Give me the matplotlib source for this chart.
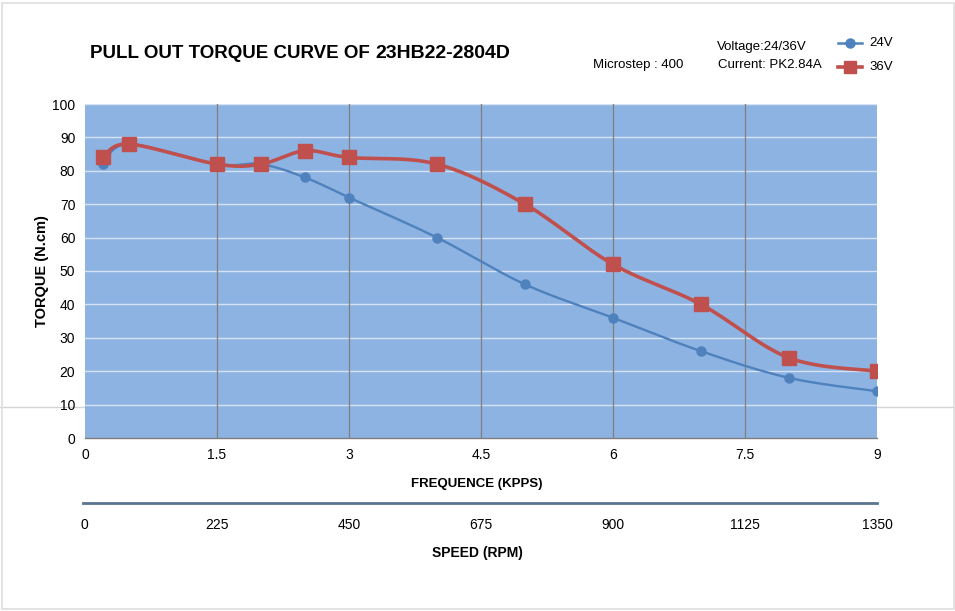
import numpy as np
import matplotlib
matplotlib.use("Agg")
import matplotlib.pyplot as plt
from matplotlib.lines import Line2D
from matplotlib.patches import Rectangle

# ---- data ----
freq_24 = [0.2, 0.5, 1.5, 2.0, 2.5, 3.0, 4.0, 5.0, 6.0, 7.0, 8.0, 9.0]
torque_24 = [82, 88, 82, 82, 78, 72, 60, 46, 36, 26, 18, 14]
freq_36 = [0.2, 0.5, 1.5, 2.0, 2.5, 3.0, 4.0, 5.0, 6.0, 7.0, 8.0, 9.0]
torque_36 = [84, 88, 82, 82, 86, 84, 82, 70, 52, 40, 24, 20]
x_ticks = [0, 1.5, 3, 4.5, 6, 7.5, 9]
x_tick_labels = ["0", "1.5", "3", "4.5", "6", "7.5", "9"]
y_ticks = [0, 10, 20, 30, 40, 50, 60, 70, 80, 90, 100]
rpm_ticks = [0, 225, 450, 675, 900, 1125, 1350]

W, H = 955, 611
fig = plt.figure(figsize=(W / 100, H / 100), dpi=100)
fig.patch.set_facecolor("white")
FONT = ["Liberation Sans", "DejaVu Sans"]


def fx(px):
    return px / W


def fy(py):
    return 1 - py / H


def smooth(xs, ys, n=30):
    # Catmull-Rom rendering of the line between data points (display smoothing only)
    p = np.column_stack([xs, ys]).astype(float)
    p = np.vstack([p[0], p, p[-1]])
    out = []
    for i in range(1, len(p) - 2):
        p0, p1, p2, p3 = p[i - 1], p[i], p[i + 1], p[i + 2]
        t = np.linspace(0, 1, n, endpoint=False)[:, None]
        seg = 0.5 * ((2 * p1) + (-p0 + p2) * t + (2 * p0 - 5 * p1 + 4 * p2 - p3) * t ** 2
                     + (-p0 + 3 * p1 - 3 * p2 + p3) * t ** 3)
        out.append(seg)
    out.append(p[-2][None, :])
    s = np.vstack(out)
    return s[:, 0], s[:, 1]


# background decorations
fig.add_artist(Line2D([0, 1], [fy(407), fy(407)], color="#d4d4d4", lw=1.0, zorder=0))
fig.add_artist(Rectangle((fx(1.5), fy(609)), fx(952), fy(2.5) - fy(609), fill=False,
                         edgecolor="#dedede", lw=1.2, zorder=0))

AX_W = 877 - 85
ax = fig.add_axes([fx(85), fy(438), fx(877) - fx(85), fy(104) - fy(438)])
ax.set_facecolor("#8DB3E2")
ax.set_xlim(0, 9)
ax.set_ylim(0, 100)
ax.set_xticks(x_ticks)
ax.set_xticklabels(x_tick_labels)
ax.set_yticks(y_ticks)
for y in y_ticks[1:]:
    ax.axhline(y, color="#D6E2F1", lw=1.0, zorder=1)
for x in x_ticks[1:-1]:
    ax.axvline(x, color="#7F7F7F", lw=0.9, zorder=1)
for s in ["top", "right", "left"]:
    ax.spines[s].set_visible(False)
ax.spines["bottom"].set_color("#7F7F7F")
ax.spines["bottom"].set_linewidth(1.0)
ax.tick_params(axis="both", length=0, labelsize=10, colors="#000000")
ax.tick_params(axis="x", pad=7)
ax.tick_params(axis="y", pad=7)
for lab in ax.get_xticklabels() + ax.get_yticklabels():
    lab.set_family(FONT)

bx, by = smooth(freq_24, torque_24)
ax.plot(bx, by, color="#4F81BD", lw=1.7, zorder=3, solid_capstyle="round")
ax.plot(freq_24, torque_24, "o", color="#4F81BD", ms=6.5, zorder=4)
rx, ry = smooth(freq_36, torque_36)
ax.plot(rx, ry, color="#C0504D", lw=2.6, zorder=5, solid_capstyle="round")
ax.plot(freq_36, torque_36, "s", color="#C0504D", ms=10, zorder=6)

ax.set_ylabel("TORQUE (N.cm)", fontsize=10.5, fontweight="bold", family=FONT)
ax.yaxis.set_label_coords((49 - 85) / AX_W, 0.5)
fig.text(fx(477), fy(484), "FREQUENCE (KPPS)", fontsize=9.5, fontweight="bold", family=FONT,
         ha="center", va="center")

# secondary speed axis
ax2 = fig.add_axes([fx(83), fy(503), fx(877) - fx(83), 0.0001])
ax2.set_xlim(-3, 1350)
ax2.set_xticks(rpm_ticks)
ax2.set_yticks([])
for s in ["top", "right", "left"]:
    ax2.spines[s].set_visible(False)
ax2.spines["bottom"].set_color("#5A7490")
ax2.spines["bottom"].set_linewidth(2.0)
ax2.patch.set_visible(False)
ax2.tick_params(axis="x", length=0, labelsize=10, pad=11)
for lab in ax2.get_xticklabels():
    lab.set_family(FONT)
fig.text(fx(477), fy(553), "SPEED (RPM)", fontsize=10, fontweight="bold", family=FONT,
         ha="center", va="center")

# titles and annotations
fig.text(fx(90), fy(53), "PULL OUT TORQUE CURVE OF ", fontsize=13.5, fontweight="bold",
         family=FONT, ha="left", va="center")
fig.text(fx(375), fy(53), "23HB22-2804D", fontsize=14, fontweight="bold", family=FONT,
         ha="left", va="center")
fig.text(fx(593), fy(65), "Microstep : 400", fontsize=9.5, family=FONT, ha="left", va="center")
fig.text(fx(717), fy(47), "Voltage:24/36V", fontsize=9.5, family=FONT, ha="left", va="center")
fig.text(fx(718), fy(65), "Current: PK2.84A", fontsize=9.5, family=FONT, ha="left", va="center")

fig.add_artist(Line2D([fx(838), fx(862)], [fy(43), fy(43)], color="#4F81BD", lw=1.8))
fig.add_artist(Line2D([fx(850)], [fy(43)], marker="o", color="#4F81BD", ms=6.5))
fig.text(fx(869), fy(43), "24V", fontsize=9.5, family=FONT, ha="left", va="center")
fig.add_artist(Line2D([fx(838), fx(862)], [fy(67), fy(67)], color="#C0504D", lw=2.6))
fig.add_artist(Line2D([fx(850)], [fy(67)], marker="s", color="#C0504D", ms=9))
fig.text(fx(869), fy(67), "36V", fontsize=9.5, family=FONT, ha="left", va="center")

fig.savefig("out.png", dpi=100)
